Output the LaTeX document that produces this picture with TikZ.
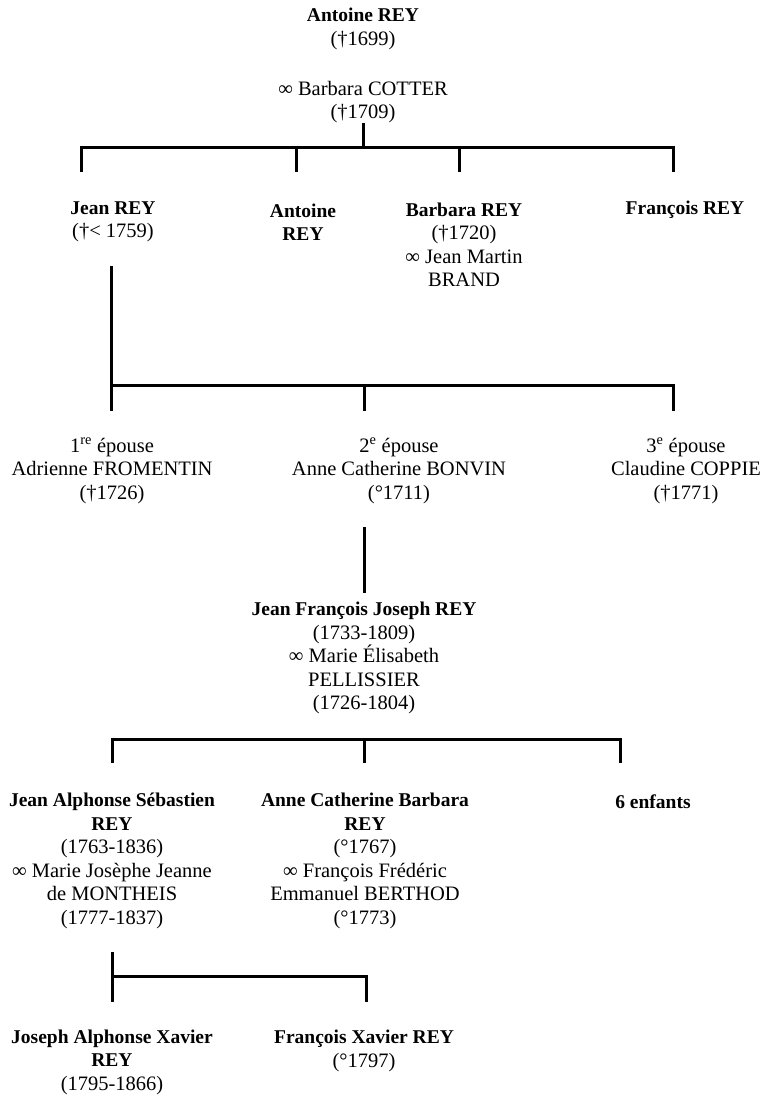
\documentclass[tikz,border=0pt]{standalone}
\usepackage{fontspec}
\setmainfont{Liberation Serif}
\usepackage{tikz}

\newcommand{\nm}[1]{{\fontsize{19.5}{23.5}\selectfont\bfseries #1}}

\begin{document}
\begin{tikzpicture}[x=1pt, y=-1pt,
    every node/.style={align=center, inner sep=0pt, font=\fontsize{20.5}{23.5}\selectfont},
    tree/.style={line width=3pt, line join=miter}]
      \useasboundingbox (0,0) rectangle (762,1095);

      \node (1) at (363, 29) {\nm{Antoine REY}\\(†1699)};
      \node (2) at (363, 102) {∞ Barbara COTTER\\(†1709)};
      \node (3) at (113, 222) {\nm{Jean REY}\\(†< 1759)};
      \node (4) at (303, 222) {\nm{Antoine}\\\nm{REY}};
      \node (5) at (464, 245) {\nm{Barbara REY}\\(†1720)\\∞ Jean Martin\\BRAND};
      \node (6) at (685, 210) {\nm{François REY}};
      \node (7) at (112, 471) {1\textsuperscript{re} épouse\\Adrienne FROMENTIN\\(†1726)};
      \node (8) at (399, 471) {2\textsuperscript{e} épouse\\Anne Catherine BONVIN\\(°1711)};
      \node (9) at (686, 471) {3\textsuperscript{e} épouse\\Claudine COPPIE\\(†1771)};
      \node (10) at (364, 658) {\nm{Jean François Joseph REY}\\(1733-1809)\\∞ Marie Élisabeth\\PELLISSIER\\(1726-1804)};
      \node (11) at (112, 861) {\nm{Jean Alphonse Sébastien}\\\nm{REY}\\(1763-1836)\\∞ Marie Josèphe Jeanne\\de MONTHEIS\\(1777-1837)};
      \node (12) at (365, 861) {\nm{Anne Catherine Barbara}\\\nm{REY}\\(°1767)\\∞ François Frédéric\\Emmanuel BERTHOD\\(°1773)};
      \node (13) at (653, 802) {\nm{6 enfants}};
      \node (14) at (112, 1062) {\nm{Joseph Alphonse Xavier}\\\nm{REY}\\(1795-1866)};
      \node (15) at (364, 1051) {\nm{François Xavier REY}\\(°1797)};

      \coordinate (p1) at (363, 123);
      \coordinate (h1) at (363, 147);
      \coordinate (d11) at (81, 172);
      \coordinate (d12) at (296, 172);
      \coordinate (d13) at (459, 172);
      \coordinate (d14) at (673, 172);

      \coordinate (p2) at (111, 266);
      \coordinate (h2) at (111, 385);
      \coordinate (d21) at (111, 411);
      \coordinate (d22) at (364, 411);
      \coordinate (d23) at (673, 411);

      \coordinate (p3) at (364, 527);
      \coordinate (d3) at (364, 593);

      \coordinate (h4) at (112, 739);
      \coordinate (d41) at (112, 763);
      \coordinate (d42) at (364, 763);
      \coordinate (d43) at (620, 763);

      \coordinate (p5) at (112, 952);
      \coordinate (h5) at (112, 976);
      \coordinate (d51) at (112, 1002);
      \coordinate (d52) at (366, 1002);

      \draw[tree] (p1) -- (h1);
      \draw[tree] (d11) -- (d11 |- h1) -- (d14 |- h1) -- (d14);
      \draw[tree] (d12 |- h1) -- (d12);
      \draw[tree] (d13 |- h1) -- (d13);

      \draw[tree] (p2) -- (d21);
      \draw[tree] (h2) -- (d23 |- h2) -- (d23);
      \draw[tree] (d22 |- h2) -- (d22);

      \draw[tree] (p3) -- (d3);

      \draw[tree] (d41) -- (h4) -- (d43 |- h4) -- (d43);
      \draw[tree] (d42 |- h4) -- (d42);

      \draw[tree] (p5) -- (d51);
      \draw[tree] (h5) -- (d52 |- h5) -- (d52);
    \end{tikzpicture}
\end{document}
